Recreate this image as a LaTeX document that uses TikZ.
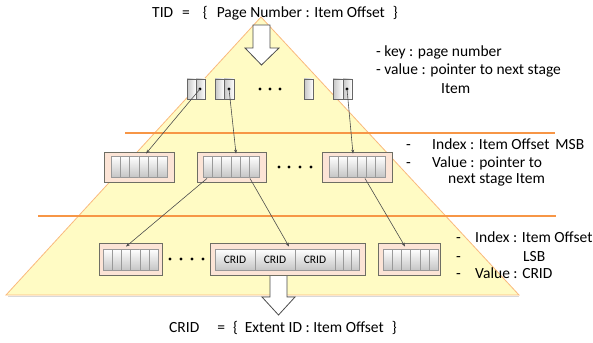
\documentclass[tikz,border=0pt]{standalone}
\usepackage{fontspec}
\setmainfont{Carlito}
\usetikzlibrary{arrows.meta}

\definecolor{triFill}{RGB}{255,251,196}
\definecolor{triEdge}{RGB}{250,185,125}
\definecolor{bandLine}{RGB}{247,150,70}
\definecolor{boxFill}{RGB}{252,228,214}
\definecolor{boxEdge}{RGB}{110,110,100}

\tikzset{
    holder/.style={draw=boxEdge, fill=boxFill, line width=0.9pt, inner sep=0pt},
    slot/.style={draw=gray!80, top color=white, bottom color=gray!45, line width=0.5pt},
    keyslot/.style={draw=gray!80!black, left color=gray!45, right color=white, line width=0.6pt},
    link/.style={draw=gray!60!black, line width=0.6pt, -{Stealth[length=4pt,width=3pt]}},
    bigarrow/.style={draw=gray!60!black, fill=white, line width=0.8pt},
    note/.style={anchor=base west, inner sep=0pt, font=\fontsize{15.5}{18}\selectfont},
}

\begin{document}
\begin{tikzpicture}[x=1pt, y=-1pt]
    \useasboundingbox (0,0) rectangle (593,342);

    % pyramid and stage lines
    \draw[gray!30, line width=1.2pt] (8,296.8) -- (519,296.8);
    \draw[draw=triEdge, fill=triFill, line width=0.8pt]
        (261,17) -- (519,295) -- (6,295) -- cycle;
    \draw[bandLine, line width=1.6pt] (125,133) -- (555,133);
    \draw[bandLine, line width=1.6pt] (38,216) -- (556,216);

    % TID arrow
    \draw[bigarrow]
        (253,25) -- (270,25) -- (270,48) -- (279,48) -- (261.5,65)
        -- (245,48) -- (253,48) -- cycle;

    % stage 1: page number keys
    \draw[keyslot] (187,79) rectangle (196,99);
    \draw[keyslot] (196,79) rectangle (205,99);
    \draw[keyslot] (215,79) rectangle (224,99);
    \draw[keyslot] (224,79) rectangle (234,99);
    \draw[keyslot] (304,79) rectangle (313,99);
    \draw[keyslot] (333,79) rectangle (343,99);
    \draw[keyslot] (343,79) rectangle (352,99);
    \coordinate (key1) at (200,89);
    \coordinate (key2) at (229,89);
    \coordinate (key4) at (347,89);
    \foreach \k in {key1,key2,key4}
        \fill (\k) circle (1.6);
    \foreach \x in {260,270,280}
        \fill (\x,89) circle (1.6);

    % stage 2: item offset MSB
    \node[holder, minimum width=70pt, minimum height=30pt] (msbA) at (139,167) {};
    \node[holder, minimum width=69pt, minimum height=30pt] (msbB) at (231.5,167) {};
    \node[holder, minimum width=70pt, minimum height=30pt] (msbC) at (357,167) {};
    \foreach \x in {111,203,329}
        \foreach \i in {0,...,5}
            \draw[slot] ({\x+\i*9.33},156) rectangle ++(9.33,21);
    \foreach \x in {279,289,300,311}
        \fill (\x,167) circle (1.6);

    % CRID arrow
    \draw[bigarrow]
        (270,270) -- (287,270) -- (287,297) -- (295,297) -- (278.5,315)
        -- (262,297) -- (270,297) -- cycle;

    % stage 3: item offset LSB
    \node[holder, minimum width=63pt, minimum height=32pt] (lsbD) at (130.5,259) {};
    \node[holder, minimum width=155pt, minimum height=32pt] (lsbE) at (287.5,259) {};
    \node[holder, minimum width=62pt, minimum height=32pt] (lsbF) at (409,259) {};
    \foreach \x in {103,383}
        \foreach \i in {0,...,5}
            \draw[slot] ({\x+\i*9.2},249) rectangle ++(9.2,21);
    \foreach \x in {215,255,295} {
        \draw[slot] (\x,249) rectangle ++(40,21);
        \node[font=\fontsize{11.5}{13}\selectfont] at (\x+20,259.5) {CRID};
    }
    \foreach \x in {335,343,351}
        \draw[slot] (\x,249) rectangle ++(8,21);
    \foreach \x in {170,181,192,203}
        \fill (\x,259) circle (1.6);

    % pointers
    \draw[link] (key1) -- ([xshift=7pt, yshift=-2pt]msbA.north);
    \draw[link] (key2) -- ([xshift=4.5pt, yshift=-2pt]msbB.north);
    \draw[link] (key4) -- ([xshift=-4pt, yshift=-2pt]msbC.north);
    \draw[link] ([xshift=-24.5pt, yshift=4pt]msbB.south) -- ([xshift=-4.5pt, yshift=-4pt]lsbD.north);
    \draw[link] ([xshift=18.5pt, yshift=4pt]msbB.south) -- ([xshift=1.5pt, yshift=-4pt]lsbE.north);
    \draw[link] ([xshift=8pt, yshift=4pt]msbC.south) -- ([xshift=-4pt, yshift=-4pt]lsbF.north);

    % labels
    \node[note] (tid) at (152,18)
        {TID\hspace{9pt}=\hspace{13pt}\{\hspace{9pt}Page Number : Item Offset\hspace{8pt}\}};
    \node[note] (crid) at (169,332)
        {CRID\hspace{18pt}=\hspace{8pt}\{\hspace{7pt}Extent ID : Item Offset\hspace{8pt}\}};

    \node[note] (key) at (376,57) {- key : page number};
    \node[note] (val) at (376,75) {- value : pointer to next stage};
    \node[note] at (441,93) {Item};

    \node[note] at (406,149) {-};
    \node[note] at (432,149) {Index : Item Offset\hspace{6pt}MSB};
    \node[note] at (406,167) {-};
    \node[note] at (432,167) {Value : pointer to};
    \node[note] at (448,183) {next stage Item};

    \node[note] at (456,242) {-};
    \node[note] at (475,242) {Index : Item Offset};
    \node[note] at (456,261) {-};
    \node[note] at (523,261) {LSB};
    \node[note] at (456,278) {-};
    \node[note] at (475,278) {Value : CRID};
\end{tikzpicture}
\end{document}
